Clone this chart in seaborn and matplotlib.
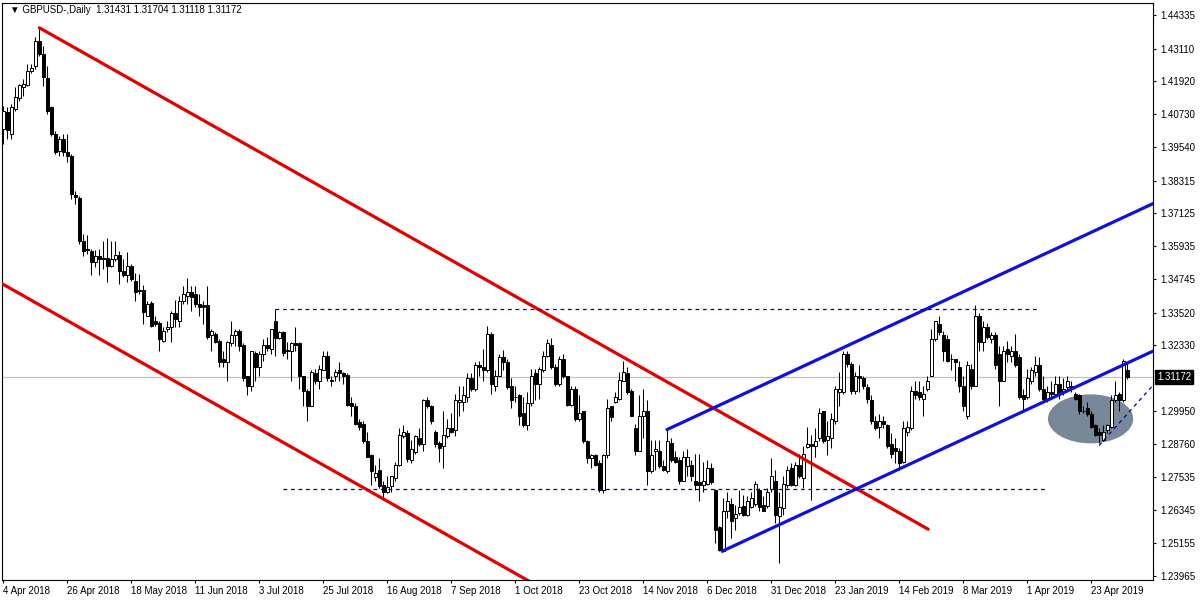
import matplotlib
matplotlib.use("Agg")
import numpy as np
import pandas as pd
import seaborn as sns
import matplotlib.pyplot as plt
from matplotlib.patches import Ellipse
from matplotlib.transforms import blended_transform_factory

# ---------------- data (GBPUSD daily) ----------------
opens = [
 1.4020,1.4082,1.4002,1.4093,1.4133,1.4173,1.4180,1.4231,1.4249,1.4340,
 1.4292,1.4205,1.4100,1.4002,1.3940,1.3984,1.3937,1.3922,1.3781,1.3770,
 1.3614,1.3585,1.3577,1.3537,1.3559,1.3552,1.3552,1.3523,1.3548,1.3563,
 1.3505,1.3487,1.3523,1.3468,1.3436,1.3436,1.3341,1.3388,1.3323,1.3316,
 1.3250,1.3291,1.3301,1.3349,1.3320,1.3396,1.3414,1.3428,1.3421,1.3385,
 1.3381,1.3378,1.3269,1.3276,1.3250,1.3185,1.3174,1.3243,1.3272,1.3287,
 1.3236,1.3120,1.3084,1.3207,1.3156,1.3200,1.3236,1.3221,1.3320,1.3261,
 1.3280,1.3211,1.3211,1.3243,1.3240,1.3120,1.3069,1.3014,1.3131,1.3105,
 1.3145,1.3196,1.3109,1.3120,1.3142,1.3131,1.3127,1.3022,1.3014,1.2953,
 1.2946,1.2884,1.2833,1.2753,1.2779,1.2724,1.2702,1.2721,1.2750,1.2797,
 1.2902,1.2913,1.2815,1.2844,1.2898,1.2873,1.3033,1.3014,1.2920,1.2880,
 1.2866,1.2902,1.2931,1.2927,1.3029,1.3029,1.3047,1.3113,1.3073,1.3163,
 1.3156,1.3142,1.3276,1.3084,1.3123,1.3189,1.3171,1.3084,1.3047,1.3051,
 1.2986,1.2942,1.3022,1.3131,1.3094,1.3142,1.3196,1.3236,1.3156,1.3091,
 1.3185,1.3120,1.3018,1.3076,1.2967,1.2993,1.2884,1.2822,1.2833,1.2804,
 1.2706,1.2833,1.3011,1.3029,1.3040,1.3105,1.3131,1.3069,1.2931,1.2851,
 1.2978,1.2993,1.2775,1.2848,1.2851,1.2793,1.2775,1.2880,1.2829,1.2815,
 1.2742,1.2793,1.2797,1.2739,1.2735,1.2724,1.2731,1.2789,1.2706,1.2572,
 1.2485,1.2633,1.2655,1.2604,1.2623,1.2648,1.2615,1.2645,1.2655,1.2706,
 1.2652,1.2648,1.2710,1.2742,1.2612,1.2641,1.2724,1.2786,1.2724,1.2797,
 1.2750,1.2862,1.2873,1.2866,1.2895,1.2993,1.2888,1.2898,1.2957,1.3065,
 1.3065,1.3200,1.3167,1.3069,1.3120,1.3113,1.3080,1.3033,1.2957,1.2938,
 1.2957,1.2942,1.2873,1.2859,1.2848,1.2811,1.2920,1.2931,1.3069,1.3062,
 1.3040,1.3076,1.3123,1.3258,1.3312,1.3269,1.3258,1.3185,1.3182,1.3156,
 1.3087,1.2978,1.3149,1.3087,1.3341,1.3247,1.3301,1.3258,1.3269,1.3203,
 1.3105,1.3221,1.3196,1.3211,1.3192,1.3051,1.3047,1.3102,1.3138,1.3160,
 1.3076,1.3040,1.3065,1.3058,1.3094,1.3065,1.3080,1.3084,1.3055,1.3051,
 1.2996,1.3007,1.2982,1.2942,1.2920,1.2891,1.2924,1.2935,1.3033,1.3058,
 1.3033,1.31431]

highs = [
 1.4104,1.4100,1.4111,1.4173,1.4183,1.4202,1.4256,1.4256,1.4354,1.4387,
 1.4321,1.4249,1.4104,1.4013,1.3995,1.4002,1.4002,1.3929,1.3795,1.3777,
 1.3639,1.3635,1.3585,1.3581,1.3585,1.3614,1.3624,1.3614,1.3614,1.3577,
 1.3548,1.3574,1.3530,1.3497,1.3494,1.3454,1.3396,1.3396,1.3341,1.3323,
 1.3301,1.3320,1.3359,1.3399,1.3414,1.3447,1.3479,1.3447,1.3447,1.3421,
 1.3396,1.3450,1.3294,1.3283,1.3258,1.3214,1.3250,1.3320,1.3294,1.3294,
 1.3240,1.3123,1.3214,1.3214,1.3211,1.3258,1.3265,1.3294,1.3367,1.3287,
 1.3287,1.3247,1.3247,1.3298,1.3247,1.3123,1.3076,1.3145,1.3149,1.3160,
 1.3211,1.3214,1.3120,1.3149,1.3174,1.3138,1.3131,1.3044,1.3022,1.2967,
 1.2957,1.2920,1.2837,1.2797,1.2822,1.2742,1.2760,1.2760,1.2811,1.2931,
 1.2942,1.2924,1.2888,1.2906,1.2931,1.3040,1.3047,1.3018,1.2924,1.2884,
 1.2993,1.2967,1.2986,1.3058,1.3087,1.3087,1.3131,1.3131,1.3174,1.3178,
 1.3221,1.3305,1.3283,1.3142,1.3200,1.3218,1.3185,1.3113,1.3084,1.3058,
 1.3047,1.3065,1.3149,1.3149,1.3156,1.3211,1.3258,1.3261,1.3167,1.3196,
 1.3203,1.3123,1.3087,1.3087,1.3051,1.2996,1.2888,1.2840,1.2840,1.2815,
 1.2837,1.3040,1.3014,1.3065,1.3138,1.3178,1.3153,1.3076,1.2949,1.3051,
 1.3076,1.3033,1.2888,1.2888,1.2888,1.2815,1.2931,1.2895,1.2851,1.2829,
 1.2848,1.2855,1.2815,1.2840,1.2840,1.2811,1.2815,1.2804,1.2710,1.2575,
 1.2677,1.2702,1.2677,1.2652,1.2706,1.2688,1.2684,1.2702,1.2742,1.2713,
 1.2684,1.2713,1.2822,1.2779,1.2702,1.2757,1.2793,1.2804,1.2811,1.2840,
 1.2869,1.2938,1.2906,1.2931,1.3007,1.2996,1.2960,1.2986,1.3087,1.3138,
 1.3214,1.3214,1.3174,1.3138,1.3163,1.3123,1.3094,1.3051,1.2978,1.2982,
 1.2975,1.2949,1.2913,1.2895,1.2859,1.2960,1.2957,1.3084,1.3105,1.3102,
 1.3087,1.3120,1.3291,1.3323,1.3338,1.3287,1.3269,1.3203,1.3185,1.3178,
 1.3123,1.3178,1.3167,1.3381,1.3349,1.3320,1.3316,1.3280,1.3283,1.3229,
 1.3232,1.3250,1.3232,1.3276,1.3203,1.3076,1.3149,1.3156,1.3196,1.3192,
 1.3120,1.3087,1.3102,1.3120,1.3120,1.3113,1.3120,1.3102,1.3062,1.3055,
 1.3014,1.3029,1.2993,1.2949,1.2931,1.2942,1.2949,1.3051,1.3102,1.3065,
 1.3182,1.31704]

lows = [
 1.3966,1.3984,1.3984,1.4085,1.4122,1.4140,1.4176,1.4223,1.4238,1.4285,
 1.4176,1.4075,1.3995,1.3929,1.3922,1.3922,1.3900,1.3766,1.3748,1.3603,
 1.3559,1.3566,1.3487,1.3519,1.3487,1.3512,1.3465,1.3519,1.3541,1.3457,
 1.3483,1.3465,1.3468,1.3396,1.3421,1.3312,1.3338,1.3301,1.3305,1.3211,
 1.3247,1.3283,1.3247,1.3301,1.3301,1.3385,1.3385,1.3359,1.3374,1.3341,
 1.3312,1.3258,1.3214,1.3240,1.3156,1.3153,1.3105,1.3232,1.3232,1.3211,
 1.3102,1.3051,1.3069,1.3102,1.3123,1.3178,1.3214,1.3203,1.3196,1.3258,
 1.3196,1.3185,1.3105,1.3211,1.3076,1.3014,1.2960,1.3011,1.3094,1.3076,
 1.3142,1.3105,1.3084,1.3102,1.3102,1.3094,1.3014,1.2978,1.2942,1.2924,
 1.2877,1.2826,1.2724,1.2742,1.2713,1.2670,1.2695,1.2702,1.2742,1.2793,
 1.2895,1.2811,1.2804,1.2840,1.2866,1.2851,1.3004,1.2946,1.2862,1.2811,
 1.2789,1.2895,1.2913,1.2902,1.2975,1.2996,1.3029,1.3069,1.3069,1.3120,
 1.3102,1.3138,1.3058,1.3069,1.3120,1.3142,1.3076,1.3004,1.3029,1.2942,
 1.2938,1.2924,1.3014,1.3033,1.3040,1.3138,1.3192,1.3149,1.3084,1.3084,
 1.3113,1.3014,1.3011,1.2957,1.2957,1.2877,1.2804,1.2786,1.2793,1.2702,
 1.2695,1.2822,1.2960,1.3022,1.3033,1.3102,1.3058,1.2975,1.2833,1.2848,
 1.2895,1.2724,1.2768,1.2779,1.2786,1.2775,1.2768,1.2811,1.2804,1.2731,
 1.2739,1.2757,1.2739,1.2706,1.2666,1.2702,1.2724,1.2731,1.2514,1.2485,
 1.2481,1.2604,1.2532,1.2561,1.2615,1.2612,1.2612,1.2641,1.2648,1.2633,
 1.2630,1.2641,1.2702,1.2586,1.2441,1.2615,1.2713,1.2721,1.2721,1.2750,
 1.2713,1.2859,1.2670,1.2829,1.2884,1.2877,1.2833,1.2859,1.2949,1.3014,
 1.3058,1.3156,1.3058,1.3058,1.3065,1.3076,1.3022,1.2946,1.2924,1.2895,
 1.2931,1.2859,1.2822,1.2804,1.2779,1.2804,1.2902,1.2924,1.3040,1.3033,
 1.2975,1.3069,1.3120,1.3250,1.3272,1.3178,1.3174,1.3142,1.3102,1.3065,
 1.2996,1.2967,1.3076,1.3084,1.3214,1.3211,1.3258,1.3240,1.3149,1.3011,
 1.3102,1.3174,1.3174,1.3156,1.3040,1.2993,1.3040,1.3094,1.3123,1.3069,
 1.3029,1.3029,1.3040,1.3051,1.3040,1.3051,1.3069,1.3065,1.3033,1.2982,
 1.2986,1.2975,1.2931,1.2902,1.2877,1.2884,1.2913,1.2931,1.3029,1.2993,
 1.3029,1.31118]

closes = [
 1.4085,1.4017,1.4100,1.4136,1.4180,1.4183,1.4231,1.4242,1.4340,1.4292,
 1.4209,1.4085,1.4002,1.3937,1.3984,1.3937,1.3922,1.3784,1.3773,1.3614,
 1.3577,1.3581,1.3537,1.3559,1.3548,1.3548,1.3523,1.3548,1.3563,1.3505,
 1.3490,1.3523,1.3476,1.3428,1.3432,1.3356,1.3385,1.3305,1.3312,1.3258,
 1.3287,1.3301,1.3352,1.3330,1.3396,1.3418,1.3428,1.3410,1.3385,1.3374,
 1.3374,1.3265,1.3287,1.3247,1.3174,1.3174,1.3247,1.3269,1.3287,1.3229,
 1.3116,1.3084,1.3211,1.3153,1.3200,1.3236,1.3225,1.3291,1.3261,1.3280,
 1.3207,1.3218,1.3243,1.3236,1.3120,1.3069,1.3014,1.3138,1.3105,1.3149,
 1.3196,1.3113,1.3105,1.3138,1.3131,1.3123,1.3018,1.3014,1.2949,1.2938,
 1.2884,1.2829,1.2775,1.2771,1.2721,1.2702,1.2717,1.2757,1.2800,1.2909,
 1.2920,1.2819,1.2855,1.2902,1.2873,1.3033,1.3014,1.2960,1.2873,1.2859,
 1.2909,1.2931,1.2920,1.3033,1.3036,1.3051,1.3113,1.3076,1.3163,1.3153,
 1.3145,1.3276,1.3091,1.3123,1.3189,1.3174,1.3080,1.3033,1.3044,1.2978,
 1.2942,1.3025,1.3123,1.3094,1.3149,1.3196,1.3240,1.3156,1.3091,1.3185,
 1.3120,1.3018,1.3073,1.2967,1.2989,1.2884,1.2822,1.2833,1.2797,1.2706,
 1.2833,1.3004,1.2971,1.3047,1.3109,1.3138,1.3065,1.2978,1.2851,1.2975,
 1.2993,1.2775,1.2833,1.2855,1.2793,1.2779,1.2884,1.2815,1.2811,1.2742,
 1.2829,1.2829,1.2757,1.2724,1.2724,1.2739,1.2789,1.2735,1.2561,1.2488,
 1.2630,1.2666,1.2594,1.2619,1.2645,1.2615,1.2666,1.2677,1.2731,1.2645,
 1.2633,1.2702,1.2760,1.2615,1.2645,1.2731,1.2779,1.2724,1.2797,1.2757,
 1.2840,1.2873,1.2866,1.2884,1.2986,1.2884,1.2902,1.2964,1.3076,1.3076,
 1.3203,1.3167,1.3069,1.3120,1.3113,1.3084,1.3040,1.2957,1.2931,1.2957,
 1.2949,1.2866,1.2840,1.2851,1.2804,1.2931,1.2938,1.3069,1.3051,1.3047,
 1.3058,1.3102,1.3258,1.3320,1.3283,1.3211,1.3178,1.3182,1.3174,1.3084,
 1.3014,1.3160,1.3084,1.3341,1.3247,1.3301,1.3265,1.3269,1.3160,1.3105,
 1.3214,1.3203,1.3211,1.3160,1.3047,1.3040,1.3113,1.3142,1.3160,1.3076,
 1.3040,1.3065,1.3055,1.3094,1.3055,1.3076,1.3102,1.3076,1.3040,1.2993,
 1.2993,1.2982,1.2938,1.2906,1.2906,1.2920,1.2942,1.3033,1.3051,1.3033,
 1.3178,1.31172]

date_labels = ["4 Apr 2018", "26 Apr 2018", "18 May 2018", "11 Jun 2018",
               "3 Jul 2018", "25 Jul 2018", "16 Aug 2018", "7 Sep 2018",
               "1 Oct 2018", "23 Oct 2018", "14 Nov 2018", "6 Dec 2018",
               "31 Dec 2018", "23 Jan 2019", "14 Feb 2019", "8 Mar 2019",
               "1 Apr 2019", "23 Apr 2019"]
bars_per_label = 16

price_ticks = [1.44335, 1.43110, 1.41920, 1.40730, 1.39540, 1.38315, 1.37125,
               1.35935, 1.34745, 1.33520, 1.32330, 1.29950, 1.28760, 1.27535,
               1.26345, 1.25155, 1.23965]
price_tick_labels = ["1.44335", "1.43110", "1.41920", "1.40730", "1.39540",
                     "1.38315", "1.37125", "1.35935", "1.34745", "1.33520",
                     "1.32330", "1.29950", "1.28760", "1.27535", "1.26345",
                     "1.25155", "1.23965"]
last_price = 1.31172
header = "\u25BC GBPUSD-,Daily  1.31431 1.31704 1.31118 1.31172"

# trend lines: (bar index, price) end points
red_upper = [(9.0, 1.4387), (231.2, 1.2565)]
red_lower = [(-0.33, 1.3457), (135.0, 1.2347)]
blue_upper = [(165.9, 1.2927), (289.0, 1.3759)]
blue_lower = [(179.7, 1.2485), (289.0, 1.3223)]
thin_dash = [(273.9, 1.2869), (289.0, 1.3114)]
level_high = [(68.0, 1.3367), (259.2, 1.3367)]
level_low = [(70.0, 1.2710), (261.0, 1.2710)]
ellipse_center = (271.8, 1.2966)
ellipse_size = (21.3, 0.0178)

# ---------------- figure ----------------
sns.set_theme(style="white")
plt.rcParams["font.family"] = ["Liberation Sans", "DejaVu Sans"]

n = min(len(opens), len(highs), len(lows), len(closes))
df = pd.DataFrame({"o": opens[:n], "h": highs[:n], "l": lows[:n], "c": closes[:n]})
df["i"] = np.arange(n)
df["up"] = df["c"] >= df["o"]
df["bottom"] = df[["o", "c"]].min(axis=1)
df["height"] = (df["c"] - df["o"]).abs().clip(lower=0.00012)

fig = plt.figure(figsize=(12, 6), dpi=100)
fig.patch.set_facecolor("white")
# plot frame: x 2..1153 px, y 3..580 px
ax = fig.add_axes([2 / 1200, 20 / 600, 1151 / 1200, 577 / 600])
ax.set_facecolor("white")

ax.set_xlim(-0.33, 287.4)
ax.set_ylim(1.23805, 1.44771)

# background objects
ax.add_patch(Ellipse(ellipse_center, ellipse_size[0], ellipse_size[1],
                     facecolor="#788898", edgecolor="none", zorder=1))
ax.axhline(last_price, color="#c0c0c0", lw=0.9, zorder=1.5)

# candles
ax.vlines(df["i"], df["l"], df["h"], color="black", lw=0.75, zorder=3)
up = df[df["up"]]
dn = df[~df["up"]]
ax.bar(up["i"], up["height"], bottom=up["bottom"], width=0.74,
       color="white", edgecolor="black", linewidth=0.7, zorder=4)
ax.bar(dn["i"], dn["height"], bottom=dn["bottom"], width=0.74,
       color="black", edgecolor="black", linewidth=0.7, zorder=4)

# trend lines
def draw(seg, color, lw, ls="-", z=5):
    xs = [p[0] for p in seg]
    ys = [p[1] for p in seg]
    sns.lineplot(x=xs, y=ys, ax=ax, color=color, linewidth=lw,
                 linestyle=ls, zorder=z, legend=False)

draw(red_upper, "#e00000", 2.3)
draw(red_lower, "#e00000", 2.3)
draw(blue_upper, "#1010dd", 2.3)
draw(blue_lower, "#1010dd", 2.3)
draw(thin_dash, "#0000a0", 0.9, ls=(0, (3, 3)))
draw(level_high, "#0000a0", 0.9, ls=(0, (3, 3)))
draw(level_low, "#0000a0", 0.9, ls=(0, (3, 3)))

# axes styling
for s in ["left", "right", "bottom", "top"]:
    ax.spines[s].set_visible(True)
    ax.spines[s].set_color("black")
    ax.spines[s].set_linewidth(0.8)

ax.yaxis.tick_right()
ax.set_yticks(price_ticks)
ax.set_yticklabels(price_tick_labels)
ax.tick_params(axis="y", which="both", right=True, left=False, direction="out",
               length=2.5, width=0.8, pad=3, labelsize=7, colors="black")

xt = [k * bars_per_label for k in range(len(date_labels))]
ax.set_xticks(xt)
ax.set_xticklabels(date_labels, ha="left")
ax.tick_params(axis="x", which="both", bottom=True, direction="out",
               length=2.5, width=0.8, pad=1.5, labelsize=7, colors="black")
ax.set_xlabel("")
ax.set_ylabel("")
ax.grid(False)

# current price box
tr = blended_transform_factory(ax.transAxes, ax.transData)
ax.text(1.0 + 4 / 1151, last_price, "1.31172", transform=tr, ha="left",
        va="center", color="white", fontsize=7,
        bbox=dict(boxstyle="square,pad=0.2", fc="black", ec="black"),
        zorder=10, clip_on=False)

# header
fig.text(10 / 1200, 1 - 10 / 600, header, fontsize=7, va="center", ha="left",
         color="black")

fig.savefig("out.png", dpi=100, facecolor="white")
